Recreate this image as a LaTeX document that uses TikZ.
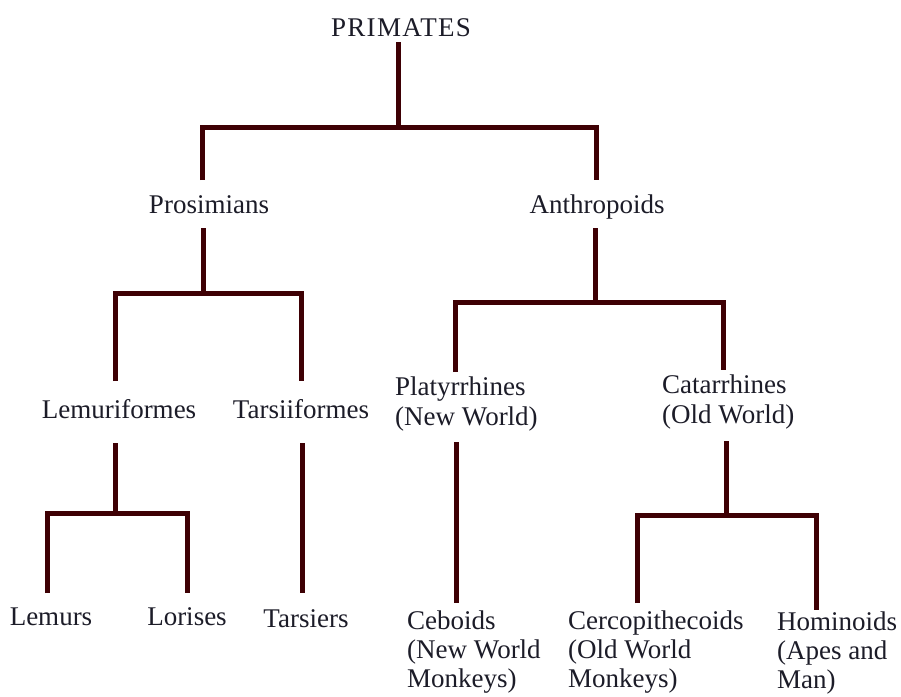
\documentclass[tikz,border=0pt]{standalone}
\usepackage{fontspec}
\setmainfont{Liberation Serif}
\definecolor{branch}{RGB}{62,0,4}
\definecolor{ink}{RGB}{28,28,40}

\begin{document}
\begin{tikzpicture}[x=1pt,y=1pt]
\tikzstyle{every node}+=[inner sep=0pt,text=ink,font=\fontsize{27}{30}\selectfont]
\tikzstyle{stem}=[draw=branch,line width=5pt,line join=miter]
\tikzstyle{leaf}=[anchor=north west,align=left,font=\fontsize{27}{29}\selectfont]
\useasboundingbox (0,0) rectangle (901,-696);
\fill[white] (0,0) rectangle (901,-696);
% labels
\draw (401,-36) node[anchor=base] (prim) {\addfontfeature{LetterSpace=5}PRIMATES};
\draw (209,-213) node[anchor=base] (pros) {Prosimians};
\draw (597,-213) node[anchor=base] (anth) {Anthropoids};
\draw (119,-418) node[anchor=base] (lemf) {Lemuriformes};
\draw (301,-418) node[anchor=base] (tarf) {Tarsiiformes};
\draw (395,-377) node[anchor=north west,align=left] (platy) {Platyrrhines\\(New World)};
\draw (662,-375) node[anchor=north west,align=left] (catar) {Catarrhines\\(Old World)};
\draw (51,-625) node[anchor=base] (lemu) {Lemurs};
\draw (187,-625) node[anchor=base] (lori) {Lorises};
\draw (306,-627) node[anchor=base] (tars) {Tarsiers};
\draw (407,-611) node[leaf] (cebo) {Ceboids\\(New World\\Monkeys)};
\draw (568,-611) node[leaf] (cerc) {Cercopithecoids\\(Old World\\Monkeys)};
\draw (777,-612) node[leaf] (homi) {Hominoids\\(Apes and\\Man)};
% line ends and junctions
\coordinate (prim-s) at (398,-42);
\coordinate (prim-j) at (398,-127);
\coordinate (pros-n) at (202,-180);
\coordinate (anth-n) at (596,-180);
\coordinate (pros-s) at (203,-228);
\coordinate (pros-j) at (203,-293);
\coordinate (lemf-n) at (115,-381);
\coordinate (tarf-n) at (301,-381);
\coordinate (anth-s) at (595,-228);
\coordinate (anth-j) at (595,-302);
\coordinate (platy-n) at (455,-372);
\coordinate (catar-n) at (723,-370);
\coordinate (lemf-s) at (115,-443);
\coordinate (lemf-j) at (115,-513);
\coordinate (lemu-n) at (47,-593);
\coordinate (lori-n) at (187,-593);
\coordinate (tarf-s) at (302,-443);
\coordinate (tars-n) at (302,-593);
\coordinate (platy-s) at (456,-442);
\coordinate (cebo-n) at (456,-603);
\coordinate (catar-s) at (726,-441);
\coordinate (catar-j) at (726,-515);
\coordinate (cerc-n) at (637,-603);
\coordinate (homi-n) at (816,-610);
% branches
\draw[stem] (prim-s) -- (prim-j);
\draw[stem] (pros-n) |- (prim-j) -| (anth-n);
\draw[stem] (pros-s) -- (pros-j);
\draw[stem] (lemf-n) |- (pros-j) -| (tarf-n);
\draw[stem] (anth-s) -- (anth-j);
\draw[stem] (platy-n) |- (anth-j) -| (catar-n);
\draw[stem] (lemf-s) -- (lemf-j);
\draw[stem] (lemu-n) |- (lemf-j) -| (lori-n);
\draw[stem] (tarf-s) -- (tars-n);
\draw[stem] (platy-s) -- (cebo-n);
\draw[stem] (catar-s) -- (catar-j);
\draw[stem] (cerc-n) |- (catar-j) -| (homi-n);
\end{tikzpicture}
\end{document}
